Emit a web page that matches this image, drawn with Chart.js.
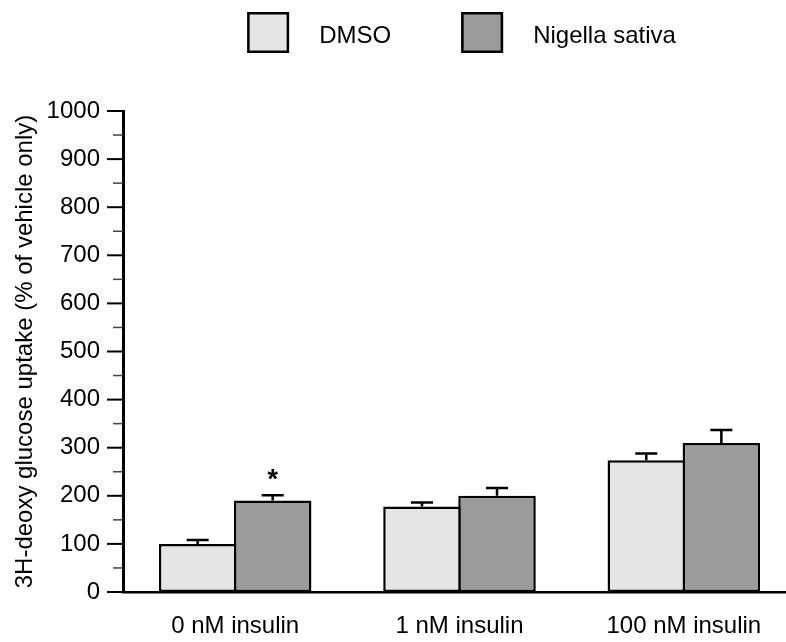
<!DOCTYPE html>
<html>
<head>
<meta charset="utf-8">
<title>Glucose uptake</title>
<script src="https://cdn.jsdelivr.net/npm/chart.js@4.4.0/dist/chart.umd.min.js"></script>
<style>
  html, body { margin: 0; padding: 0; background: #fff; overflow: hidden; }
  #wrap { width: 796px; height: 642px; }
</style>
</head>
<body>
<div id="wrap"><canvas id="uptake-chart"></canvas></div>
<script>
const categories = ['0 nM insulin', '1 nM insulin', '100 nM insulin'];
const dmsoUptake = [100, 178, 274];
const dmsoError = [8, 8, 14];
const nigellaUptake = [190, 200, 310];
const nigellaError = [11, 16, 27];
const nigellaMarks = ['*', '', ''];
const yTickValues = [0, 100, 200, 300, 400, 500, 600, 700, 800, 900, 1000];

const FONT = 'Liberation Sans, Arial, Helvetica, sans-serif';
Chart.defaults.color = '#000';
Chart.defaults.font.family = FONT;

// major ticks every 100, minor ticks halfway between
const yTickMarks = {
  id: 'yTickMarks',
  afterDraw(chart) {
    const y = chart.scales.y;
    const ctx = chart.ctx;
    const axisX = chart.chartArea.left;
    ctx.save();
    for (let i = 0; i < yTickValues.length; i++) {
      const py = y.getPixelForValue(yTickValues[i]);
      ctx.strokeStyle = '#000';
      ctx.lineWidth = 2;
      ctx.beginPath();
      ctx.moveTo(axisX - 16, py);
      ctx.lineTo(axisX, py);
      ctx.stroke();
      if (i < yTickValues.length - 1) {
        const mid = y.getPixelForValue((yTickValues[i] + yTickValues[i + 1]) / 2);
        ctx.strokeStyle = '#444';
        ctx.lineWidth = 1.5;
        ctx.beginPath();
        ctx.moveTo(axisX - 10, mid);
        ctx.lineTo(axisX, mid);
        ctx.stroke();
      }
    }
    ctx.restore();
  }
};

// upper error bars and significance marks
const errorBars = {
  id: 'errorBars',
  afterDatasetsDraw(chart) {
    const ctx = chart.ctx;
    const y = chart.scales.y;
    ctx.save();
    chart.data.datasets.forEach((ds, di) => {
      const meta = chart.getDatasetMeta(di);
      meta.data.forEach((bar, i) => {
        const top = y.getPixelForValue(ds.data[i] + ds.errors[i]);
        ctx.strokeStyle = '#000';
        ctx.lineWidth = 2.5;
        ctx.beginPath();
        ctx.moveTo(bar.x, bar.y);
        ctx.lineTo(bar.x, top);
        ctx.moveTo(bar.x - 11, top);
        ctx.lineTo(bar.x + 11, top);
        ctx.stroke();
        if (ds.marks && ds.marks[i]) {
          ctx.fillStyle = '#000';
          ctx.font = 'bold 27px ' + FONT;
          ctx.textAlign = 'center';
          ctx.textBaseline = 'alphabetic';
          ctx.fillText(ds.marks[i], bar.x, top - 7);
        }
      });
    });
    ctx.restore();
  }
};

// legend row across the top
const topLegend = {
  id: 'topLegend',
  afterDraw(chart) {
    const ctx = chart.ctx;
    const boxW = 42, boxH = 41, gap = 30, spacing = 70, boxTop = 12;
    ctx.save();
    ctx.font = '24px ' + FONT;
    const items = chart.data.datasets.map(ds => ({
      ds, w: ctx.measureText(ds.label).width
    }));
    let total = 0;
    items.forEach((it, i) => { total += boxW + gap + it.w + (i ? spacing : 0); });
    const area = chart.chartArea;
    let x = (area.left + area.right) / 2 - total / 2 + 2;
    items.forEach(it => {
      ctx.fillStyle = it.ds.backgroundColor;
      ctx.fillRect(x, boxTop, boxW, boxH);
      ctx.strokeStyle = '#000';
      ctx.lineWidth = 2.5;
      ctx.strokeRect(x + 1.25, boxTop + 1.25, boxW - 2.5, boxH - 2.5);
      ctx.fillStyle = '#000';
      ctx.textAlign = 'left';
      ctx.textBaseline = 'alphabetic';
      ctx.fillText(it.ds.label, x + boxW + gap, boxTop + 31);
      x += boxW + gap + it.w + spacing;
    });
    ctx.restore();
  }
};

new Chart(document.getElementById('uptake-chart'), {
  type: 'bar',
  data: {
    labels: categories,
    datasets: [
      {
        label: 'DMSO',
        data: dmsoUptake,
        errors: dmsoError,
        backgroundColor: '#e5e5e5',
        borderColor: '#000',
        borderWidth: 2.5,
        borderSkipped: false,
      },
      {
        label: 'Nigella sativa',
        data: nigellaUptake,
        errors: nigellaError,
        marks: nigellaMarks,
        backgroundColor: '#9b9b9b',
        borderColor: '#000',
        borderWidth: 2.5,
        borderSkipped: false,
      },
    ],
  },
  options: {
    responsive: true,
    maintainAspectRatio: false,
    animation: false,
    layout: { padding: { top: 111, right: 0, bottom: 0, left: 0 } },
    plugins: {
      legend: { display: false },
      tooltip: { enabled: false },
    },
    datasets: {
      bar: { categoryPercentage: 0.669, barPercentage: 1.033 },
    },
    scales: {
      x: {
        grid: { display: false, drawTicks: false },
        border: { display: true, color: '#000', width: 2.5 },
        ticks: { font: { size: 24 }, padding: 20, maxRotation: 0 },
        afterFit(scale) { scale.height = 50; },
      },
      y: {
        min: 0,
        max: 1000,
        afterBuildTicks(scale) { scale.ticks = yTickValues.map(v => ({ value: v })); },
        grid: { display: false, drawTicks: false },
        border: { display: true, color: '#000', width: 3 },
        ticks: {
          font: { size: 24 },
          padding: 23,
          callback: value => String(value),
        },
        title: {
          display: true,
          text: '3H-deoxy glucose uptake (% of vehicle only)',
          font: { size: 24 },
          padding: { top: 11, bottom: 0 },
        },
        afterFit(scale) { scale.width = 123; },
      },
    },
  },
  plugins: [yTickMarks, errorBars, topLegend],
});
</script>
</body>
</html>
